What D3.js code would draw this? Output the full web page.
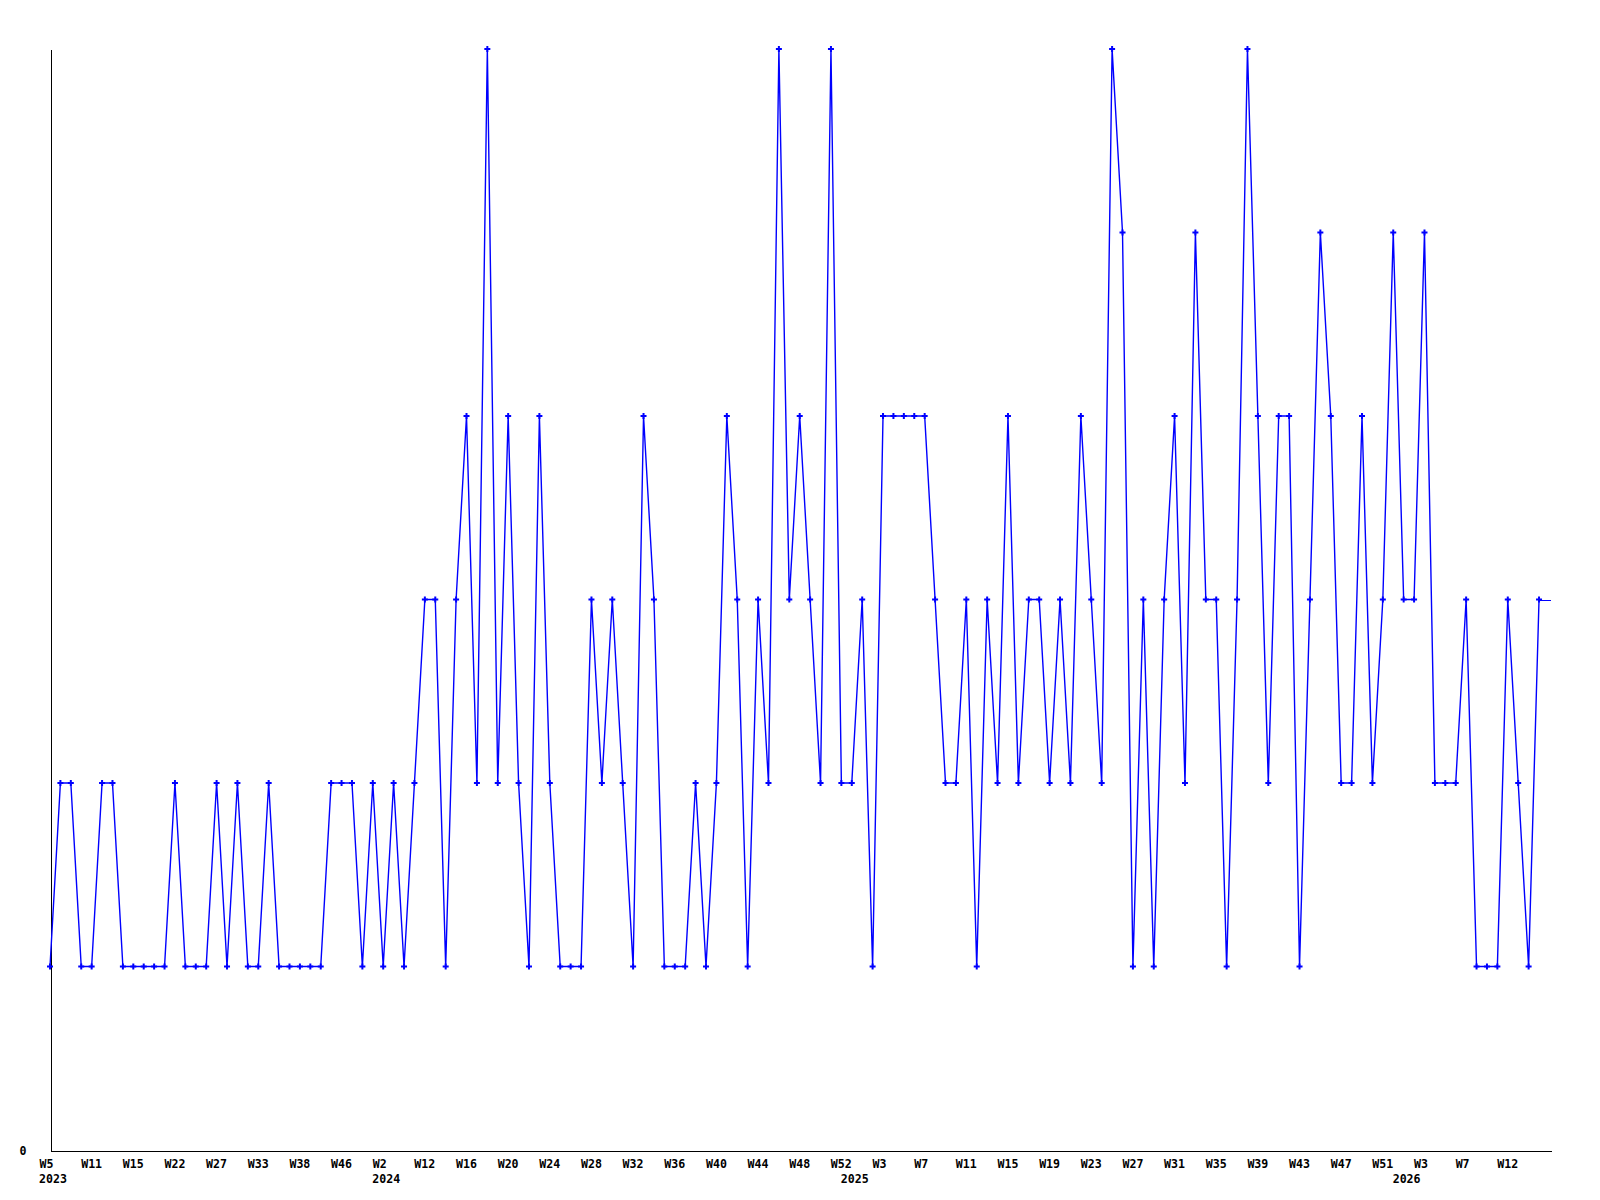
<!DOCTYPE html>
<meta charset="utf-8">
<script src="https://cdnjs.cloudflare.com/ajax/libs/d3/7.8.5/d3.min.js"></script>
<style>
  body { margin: 0; background: #fff; }
  text { font-family: "DejaVu Sans Mono", monospace; font-weight: bold; font-size: 11.6px; fill: #000; }
</style>
<div id="chart"></div>
<script>

// weekly counts, one entry per week shown on the axis
var values = [1,2,2,1,1,2,2,1,1,1, 1,1,2,1,1,1,2,1,2,1,
              1,2,1,1,1,1,1,2,2,2, 1,2,1,2,1,2,3,3,1,3,
              4,2,6,2,4,2,1,4,2,1, 1,1,3,2,3,2,1,4,3,1,
              1,1,2,1,2,4,3,1,3,2, 6,3,4,3,2,6,2,2,3,1,
              4,4,4,4,4,3,2,2,3,1, 3,2,4,2,3,3,2,3,2,4,
              3,2,6,5,1,3,1,3,4,2, 5,3,3,1,3,6,4,2,4,4,
              1,3,5,4,2,2,4,2,3,5, 3,3,5,2,2,2,3,1,1,1,
              3,2,1,3];

// a tick label every 4th week
var tickLabels = ["W5","W11","W15","W22","W27","W33","W38","W46","W2","W12",
                  "W16","W20","W24","W28","W32","W36","W40","W44","W48","W52",
                  "W3","W7","W11","W15","W19","W23","W27","W31","W35","W39",
                  "W43","W47","W51","W3","W7","W12"];
var tickStep = 4;

// first week of each year
var years = ["2023","2024","2025","2026"];
var yearStart = [0, 32, 77, 130];

var width = 1600, height = 1200;
var margin = {top: 49, right: 49, bottom: 50, left: 50};

var svg = d3.select("#chart").append("svg")
    .attr("width", width)
    .attr("height", height);

// axis runs a bit past the last week
var x = d3.scaleLinear()
    .domain([0, values.length - 1 + 1.15])
    .range([margin.left, width - margin.right]);

var y = d3.scaleLinear()
    .domain([0, d3.max(values)])
    .range([height - margin.bottom, margin.top]);

var data = values.map(function(v, i) { return {i: i, v: v}; });

// x axis
var xAxis = d3.axisBottom(x)
    .tickValues(tickLabels.map(function(d, k) { return k * tickStep; }))
    .tickFormat(function(d) { return tickLabels[d / tickStep]; })
    .tickSize(0)
    .tickSizeOuter(0);

var gx = svg.append("g")
    .attr("transform", "translate(0," + (y(0) + 0.5) + ")")
    .call(xAxis);
gx.select(".domain").attr("stroke", "#000").attr("shape-rendering", "crispEdges");
gx.selectAll(".tick text")
    .attr("text-anchor", "start")
    .attr("dx", -11)
    .attr("y", 0)
    .attr("dy", 17)
    .style("font-family", "DejaVu Sans Mono, monospace")
    .style("font-size", "11.6px")
    .style("font-weight", "bold")
    .attr("fill", "#000");

// year labels under the first week of each year
gx.selectAll(".year")
  .data(years)
  .enter()
  .append("text")
    .attr("class", "year")
    .attr("text-anchor", "start")
    .attr("x", function(d, k) { return x(yearStart[k]) - 11; })
    .attr("y", 32.5)
    .text(function(d) { return d; });

// y axis, only the zero is labelled
var yAxis = d3.axisLeft(y)
    .tickValues([0])
    .tickFormat(d3.format("d"))
    .tickSize(0)
    .tickSizeOuter(0)
    .tickPadding(24);

var gy = svg.append("g")
    .attr("transform", "translate(" + (margin.left + 0.5) + ",0)")
    .call(yAxis);
gy.select(".domain").attr("stroke", "#000").attr("shape-rendering", "crispEdges");
gy.selectAll(".tick text")
    .style("font-family", "DejaVu Sans Mono, monospace")
    .style("font-size", "11.6px")
    .style("font-weight", "bold")
    .attr("fill", "#000")
    .attr("dy", "0.4em");

// the line, carried flat to the end of the axis
var line = d3.line()
    .x(function(d) { return x(d.i); })
    .y(function(d) { return y(d.v); });

svg.append("path")
    .datum(data)
    .attr("d", line)
    .attr("fill", "none")
    .attr("stroke", "#0000ff")
    .attr("stroke-width", 1.4);

var last = data[data.length - 1];
svg.append("line")
    .attr("x1", x(last.i))
    .attr("x2", x.range()[1])
    .attr("y1", y(last.v) + 0.5)
    .attr("y2", y(last.v) + 0.5)
    .attr("stroke", "#0000ff")
    .attr("stroke-width", 1)
    .attr("shape-rendering", "crispEdges");

// small plus markers on each week
svg.selectAll(".dot")
  .data(data)
  .enter()
  .append("path")
    .attr("class", "dot")
    .attr("transform", function(d) { return "translate(" + x(d.i) + "," + y(d.v) + ")"; })
    .attr("d", "M-3,0H3M0,-3V3")
    .attr("stroke", "#0000ff")
    .attr("stroke-width", 2);

</script>
